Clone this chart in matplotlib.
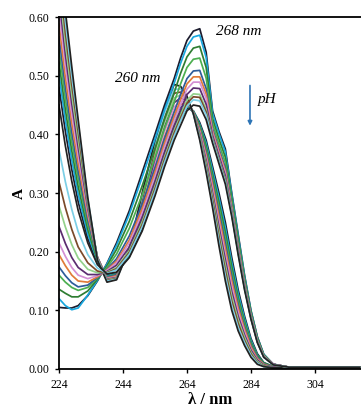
import numpy as np
import matplotlib
matplotlib.use("Agg")
from matplotlib import pyplot as plt

# wavelength grid (nm) shared by all spectra
wavelength = [224, 226, 228, 230, 233, 236, 239, 242, 246, 250, 254, 257, 260, 262, 264,
              266, 268, 270, 272, 274, 276, 278, 280, 282, 284, 286, 288, 291, 296, 318]

# spectra with the 268 nm band (low pH end)
band_268 = [
    [0.105, 0.104, 0.104, 0.108, 0.125, 0.150, 0.180, 0.215, 0.270, 0.335, 0.400, 0.450, 0.495, 0.530, 0.560, 0.576, 0.580, 0.540, 0.440, 0.405, 0.375, 0.300, 0.230, 0.160, 0.100, 0.055, 0.025, 0.008, 0.003, 0.003],
    [0.120, 0.108, 0.101, 0.104, 0.126, 0.151, 0.179, 0.211, 0.264, 0.327, 0.392, 0.442, 0.487, 0.521, 0.550, 0.566, 0.569, 0.531, 0.436, 0.401, 0.370, 0.297, 0.227, 0.158, 0.099, 0.054, 0.025, 0.008, 0.003, 0.003],
    [0.136, 0.129, 0.123, 0.123, 0.133, 0.153, 0.176, 0.204, 0.252, 0.312, 0.376, 0.426, 0.471, 0.504, 0.532, 0.547, 0.550, 0.514, 0.427, 0.392, 0.361, 0.291, 0.222, 0.154, 0.097, 0.053, 0.024, 0.008, 0.003, 0.003],
    [0.160, 0.148, 0.139, 0.134, 0.139, 0.155, 0.173, 0.196, 0.240, 0.297, 0.360, 0.410, 0.455, 0.486, 0.514, 0.528, 0.530, 0.496, 0.419, 0.384, 0.352, 0.285, 0.217, 0.151, 0.094, 0.051, 0.023, 0.008, 0.003, 0.003],
    [0.174, 0.159, 0.147, 0.140, 0.143, 0.156, 0.170, 0.188, 0.227, 0.281, 0.343, 0.393, 0.438, 0.468, 0.495, 0.508, 0.509, 0.478, 0.410, 0.375, 0.343, 0.278, 0.211, 0.147, 0.092, 0.050, 0.022, 0.008, 0.003, 0.003],
    [0.195, 0.176, 0.160, 0.150, 0.148, 0.157, 0.169, 0.184, 0.220, 0.273, 0.335, 0.385, 0.430, 0.459, 0.486, 0.498, 0.498, 0.469, 0.406, 0.371, 0.338, 0.275, 0.208, 0.145, 0.091, 0.049, 0.022, 0.008, 0.003, 0.003],
    [0.215, 0.192, 0.173, 0.160, 0.154, 0.159, 0.168, 0.181, 0.215, 0.266, 0.328, 0.378, 0.423, 0.451, 0.477, 0.489, 0.489, 0.461, 0.402, 0.367, 0.334, 0.272, 0.206, 0.143, 0.090, 0.048, 0.022, 0.008, 0.003, 0.003],
    [0.243, 0.214, 0.190, 0.173, 0.161, 0.161, 0.166, 0.177, 0.208, 0.258, 0.319, 0.369, 0.414, 0.441, 0.468, 0.479, 0.478, 0.451, 0.398, 0.363, 0.329, 0.269, 0.203, 0.141, 0.088, 0.047, 0.021, 0.008, 0.003, 0.003],
    [0.278, 0.242, 0.212, 0.189, 0.170, 0.164, 0.165, 0.173, 0.202, 0.250, 0.311, 0.361, 0.406, 0.432, 0.458, 0.469, 0.468, 0.442, 0.393, 0.358, 0.324, 0.266, 0.200, 0.139, 0.087, 0.047, 0.021, 0.007, 0.003, 0.003],
    [0.319, 0.275, 0.238, 0.208, 0.181, 0.167, 0.164, 0.171, 0.199, 0.246, 0.307, 0.357, 0.402, 0.428, 0.453, 0.464, 0.463, 0.438, 0.391, 0.356, 0.322, 0.264, 0.199, 0.138, 0.087, 0.046, 0.021, 0.007, 0.003, 0.003],
    [0.374, 0.319, 0.272, 0.234, 0.195, 0.172, 0.163, 0.169, 0.196, 0.242, 0.302, 0.352, 0.397, 0.423, 0.448, 0.459, 0.457, 0.433, 0.389, 0.354, 0.319, 0.263, 0.197, 0.137, 0.086, 0.046, 0.020, 0.007, 0.003, 0.003],
    [0.450, 0.380, 0.320, 0.270, 0.215, 0.178, 0.162, 0.165, 0.190, 0.235, 0.295, 0.345, 0.390, 0.415, 0.440, 0.450, 0.448, 0.425, 0.385, 0.350, 0.315, 0.260, 0.195, 0.135, 0.085, 0.045, 0.020, 0.007, 0.003, 0.003],
]

# spectra with the 260 nm band (high pH end)
band_260 = [
    [0.480, 0.405, 0.340, 0.285, 0.222, 0.180, 0.160, 0.164, 0.192, 0.240, 0.305, 0.355, 0.400, 0.425, 0.445, 0.440, 0.420, 0.390, 0.345, 0.300, 0.250, 0.190, 0.135, 0.090, 0.052, 0.026, 0.011, 0.004, 0.002, 0.002],
    [0.502, 0.424, 0.356, 0.298, 0.230, 0.183, 0.159, 0.163, 0.194, 0.245, 0.313, 0.363, 0.408, 0.430, 0.447, 0.440, 0.417, 0.385, 0.339, 0.292, 0.241, 0.182, 0.129, 0.086, 0.049, 0.024, 0.010, 0.004, 0.002, 0.002],
    [0.523, 0.442, 0.372, 0.311, 0.238, 0.185, 0.157, 0.162, 0.196, 0.251, 0.320, 0.371, 0.415, 0.435, 0.449, 0.439, 0.415, 0.380, 0.332, 0.284, 0.232, 0.174, 0.122, 0.081, 0.046, 0.023, 0.010, 0.004, 0.002, 0.002],
    [0.545, 0.460, 0.387, 0.324, 0.246, 0.188, 0.156, 0.162, 0.198, 0.256, 0.328, 0.379, 0.423, 0.440, 0.450, 0.439, 0.412, 0.375, 0.326, 0.276, 0.223, 0.166, 0.116, 0.077, 0.043, 0.021, 0.009, 0.003, 0.002, 0.002],
    [0.566, 0.479, 0.403, 0.337, 0.254, 0.190, 0.156, 0.161, 0.200, 0.262, 0.336, 0.387, 0.431, 0.446, 0.452, 0.438, 0.409, 0.370, 0.320, 0.268, 0.214, 0.158, 0.110, 0.072, 0.041, 0.020, 0.008, 0.003, 0.002, 0.002],
    [0.588, 0.497, 0.419, 0.350, 0.262, 0.191, 0.155, 0.159, 0.202, 0.267, 0.343, 0.396, 0.438, 0.451, 0.454, 0.438, 0.407, 0.365, 0.314, 0.260, 0.205, 0.150, 0.104, 0.068, 0.038, 0.018, 0.008, 0.003, 0.002, 0.002],
    [0.612, 0.518, 0.436, 0.365, 0.268, 0.191, 0.154, 0.157, 0.205, 0.273, 0.352, 0.405, 0.447, 0.456, 0.456, 0.437, 0.404, 0.360, 0.307, 0.251, 0.195, 0.141, 0.097, 0.063, 0.034, 0.016, 0.007, 0.003, 0.002, 0.002],
    [0.634, 0.536, 0.452, 0.378, 0.274, 0.191, 0.153, 0.156, 0.207, 0.278, 0.359, 0.413, 0.454, 0.462, 0.458, 0.437, 0.401, 0.355, 0.300, 0.242, 0.186, 0.132, 0.090, 0.058, 0.032, 0.015, 0.007, 0.003, 0.002, 0.002],
    [0.655, 0.555, 0.468, 0.391, 0.280, 0.190, 0.152, 0.155, 0.207, 0.284, 0.367, 0.421, 0.462, 0.467, 0.460, 0.436, 0.398, 0.350, 0.294, 0.234, 0.177, 0.124, 0.084, 0.054, 0.029, 0.013, 0.006, 0.002, 0.002, 0.002],
    [0.677, 0.573, 0.484, 0.404, 0.285, 0.189, 0.151, 0.154, 0.207, 0.289, 0.375, 0.429, 0.470, 0.472, 0.461, 0.436, 0.395, 0.345, 0.288, 0.226, 0.168, 0.116, 0.078, 0.049, 0.026, 0.011, 0.005, 0.002, 0.002, 0.002],
    [0.698, 0.592, 0.499, 0.417, 0.290, 0.188, 0.150, 0.153, 0.206, 0.295, 0.382, 0.437, 0.477, 0.477, 0.463, 0.435, 0.393, 0.340, 0.281, 0.218, 0.159, 0.108, 0.071, 0.045, 0.023, 0.010, 0.004, 0.002, 0.002, 0.002],
    [0.720, 0.610, 0.515, 0.425, 0.292, 0.186, 0.148, 0.152, 0.205, 0.300, 0.390, 0.445, 0.485, 0.482, 0.465, 0.435, 0.390, 0.335, 0.275, 0.210, 0.150, 0.100, 0.065, 0.040, 0.020, 0.008, 0.004, 0.002, 0.002, 0.002],
]

palette = ["#1c1c2e", "#19a7de", "#2f7d32", "#4caf50", "#2e5c9a", "#e07b39",
           "#d48fd4", "#5b2c6f", "#93d18b", "#7a4a2a", "#7ccfe6", "#222222"]

yticks = [0.0, 0.1, 0.2, 0.3, 0.4, 0.5, 0.6]
xticks = [224, 244, 264, 284, 304]

serif = ["Liberation Serif", "DejaVu Serif"]

fig = plt.figure(figsize=(3.61, 4.08), dpi=100)
ax = fig.add_axes([0.1634, 0.0956, 0.8366, 0.8627])

spectra = band_260 + band_268
for i, row in enumerate(spectra):
    ax.plot(wavelength, row, color=palette[i % len(palette)], lw=1.25, solid_joinstyle="round")

ax.set_xlim(224, 318.4)
ax.set_ylim(0, 0.6)
ax.set_xticks(xticks)
ax.set_yticks(yticks)
ax.set_yticklabels(["%.2f" % v for v in yticks])
ax.tick_params(direction="out", length=3, width=1, labelsize=8.5, pad=4)
for lab in ax.get_xticklabels() + ax.get_yticklabels():
    lab.set_family(serif)

ax.spines["right"].set_visible(False)
for s in ["left", "bottom", "top"]:
    ax.spines[s].set_linewidth(1.3)

ax.set_xlabel("λ / nm", family=serif, fontsize=12, fontweight="bold", labelpad=1)
ax.set_ylabel("A", family=serif, fontsize=11, fontweight="bold", labelpad=2)

ax.text(273.1, 0.576, "268 nm", family=serif, style="italic", fontsize=11, va="center")
ax.text(241.5, 0.496, "260 nm", family=serif, style="italic", fontsize=11, va="center")
ax.annotate("", xy=(283.7, 0.410), xytext=(283.7, 0.488),
            arrowprops=dict(arrowstyle="-|>", color="#2e75b6", lw=1.2, mutation_scale=6))
ax.text(286.3, 0.46, "pH", family=serif, style="italic", fontsize=11, va="center")

fig.savefig("out.png", dpi=100)
